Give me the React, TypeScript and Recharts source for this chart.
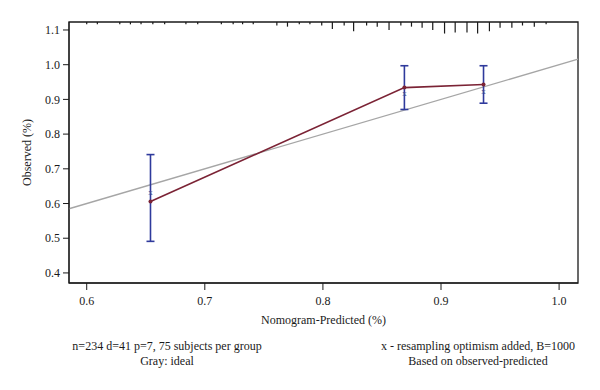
import React from 'react'
import {
  ScatterChart, Scatter, XAxis, YAxis, ErrorBar, ReferenceLine, ReferenceArea, Label,
} from 'recharts'

// calibration groups (3 groups of ~75 subjects)
const predicted = [0.654, 0.869, 0.936]
const observed = [0.606, 0.934, 0.943]
const lowerCI = [0.491, 0.871, 0.889]
const upperCI = [0.741, 0.997, 0.997]
const corrected = [0.632, 0.918, 0.925]

// rug of predicted values along the top border
const rugX = [
  0.600, 0.609, 0.628, 0.637, 0.646, 0.656, 0.666, 0.684, 0.694, 0.714,
  0.724, 0.732, 0.741, 0.761, 0.770, 0.780, 0.789, 0.799, 0.808, 0.818,
  0.826, 0.837, 0.846, 0.856, 0.866, 0.875, 0.884, 0.893, 0.903, 0.912,
  0.922, 0.931, 0.941, 0.950, 0.960, 0.969, 0.979, 0.989,
]
const rugCount = [
  1, 1, 1, 1, 1, 1, 1, 1, 1, 1,
  1, 1, 1, 2, 3, 1, 1, 2, 5, 2,
  7, 2, 3, 6, 2, 3, 4, 6, 9, 8,
  8, 9, 7, 4, 4, 2, 3, 1,
]

const xTicks = [0.6, 0.7, 0.8, 0.9, 1.0]
const yTicks = [0.4, 0.5, 0.6, 0.7, 0.8, 0.9, 1.0, 1.1]
const X_DOMAIN: [number, number] = [0.585, 1.016]
const Y_DOMAIN: [number, number] = [0.371, 1.123]

const FONT = '"Liberation Serif", "DejaVu Serif", serif'
const INK = '#1a1a1a'
const RED = '#7b2335'
const BLUE = '#2f3a9c'

const calData = predicted.map((x, i) => ({
  x,
  y: observed[i],
  err: [observed[i] - lowerCI[i], upperCI[i] - observed[i]],
}))
const corrData = predicted.map((x, i) => ({ x, y: corrected[i] }))
const rugData = rugX.map((x, i) => ({ x, y: Y_DOMAIN[1], n: rugCount[i] }))

// eslint-disable-next-line @typescript-eslint/no-explicit-any
const RugTick = (props: any) => {
  const { cx, cy, payload } = props
  const len = 1.2 + 1.15 * payload.n
  return <line x1={cx} x2={cx} y1={cy} y2={cy + len} stroke={INK} strokeWidth={1.2} />
}

// eslint-disable-next-line @typescript-eslint/no-explicit-any
const CrossMark = (props: any) => (
  <text x={props.cx} y={props.cy} textAnchor="middle" dominantBaseline="central"
    fontSize={9} fontFamily={FONT} fill="#45508f">x</text>
)

// eslint-disable-next-line @typescript-eslint/no-explicit-any
const Dot = (props: any) => <circle cx={props.cx} cy={props.cy} r={2} fill={RED} />

const tickStyle = { fontSize: 12, fill: INK, fontFamily: FONT }

const note: React.CSSProperties = {
  position: 'absolute', fontFamily: FONT, fontSize: 12, color: INK,
  textAlign: 'center', lineHeight: '15px', whiteSpace: 'nowrap',
}

export default function App() {
  return (
    <div style={{ position: 'absolute', left: 0, top: 0, width: 600, height: 390, background: '#fff' }}>
      <ScatterChart width={600} height={390} margin={{ top: 22, right: 22, bottom: 62, left: 19 }}>
        <XAxis
          type="number" dataKey="x" domain={X_DOMAIN} ticks={xTicks} allowDataOverflow
          tickFormatter={(v) => v.toFixed(1)} tick={tickStyle}
          stroke={INK} tickSize={7} tickMargin={6} height={45}
        >
          <Label value="Nomogram-Predicted (%)" position="insideBottom" offset={4}
            style={{ fontSize: 12, fill: INK, fontFamily: FONT }} />
        </XAxis>
        <YAxis
          type="number" dataKey="y" domain={Y_DOMAIN} ticks={yTicks} allowDataOverflow
          tickFormatter={(v) => v.toFixed(1)} tick={tickStyle}
          stroke={INK} tickSize={6} tickMargin={3} width={50}
        >
          <Label value="Observed (%)" angle={-90} position="insideLeft" offset={8}
            style={{ fontSize: 12, fill: INK, fontFamily: FONT, textAnchor: 'middle' }} />
        </YAxis>

        {/* plot box */}
        <ReferenceArea x1={X_DOMAIN[0]} x2={X_DOMAIN[1]} y1={Y_DOMAIN[0]} y2={Y_DOMAIN[1]}
          fill="none" stroke={INK} strokeWidth={1.3} fillOpacity={0} />

        {/* ideal line */}
        <ReferenceLine
          segment={[{ x: X_DOMAIN[0], y: X_DOMAIN[0] }, { x: X_DOMAIN[1], y: X_DOMAIN[1] }]}
          stroke="#a6a6a6" strokeWidth={1.4}
        />

        <Scatter data={rugData} shape={<RugTick />} isAnimationActive={false} />

        <Scatter data={calData} line={{ stroke: RED, strokeWidth: 1.6 }} lineType="joint"
          shape={<Dot />} isAnimationActive={false}>
          <ErrorBar dataKey="err" direction="y" width={4} stroke={BLUE} strokeWidth={1.6}
            isAnimationActive={false} />
        </Scatter>

        <Scatter data={corrData} shape={<CrossMark />} isAnimationActive={false} />
      </ScatterChart>

      <div style={{ ...note, left: 67, width: 200, top: 339 }}>
        n=234 d=41 p=7, 75 subjects per group<br />Gray: ideal
      </div>
      <div style={{ ...note, left: 378, width: 200, top: 339 }}>
        x - resampling optimism added, B=1000<br />Based on observed-predicted
      </div>
    </div>
  )
}
